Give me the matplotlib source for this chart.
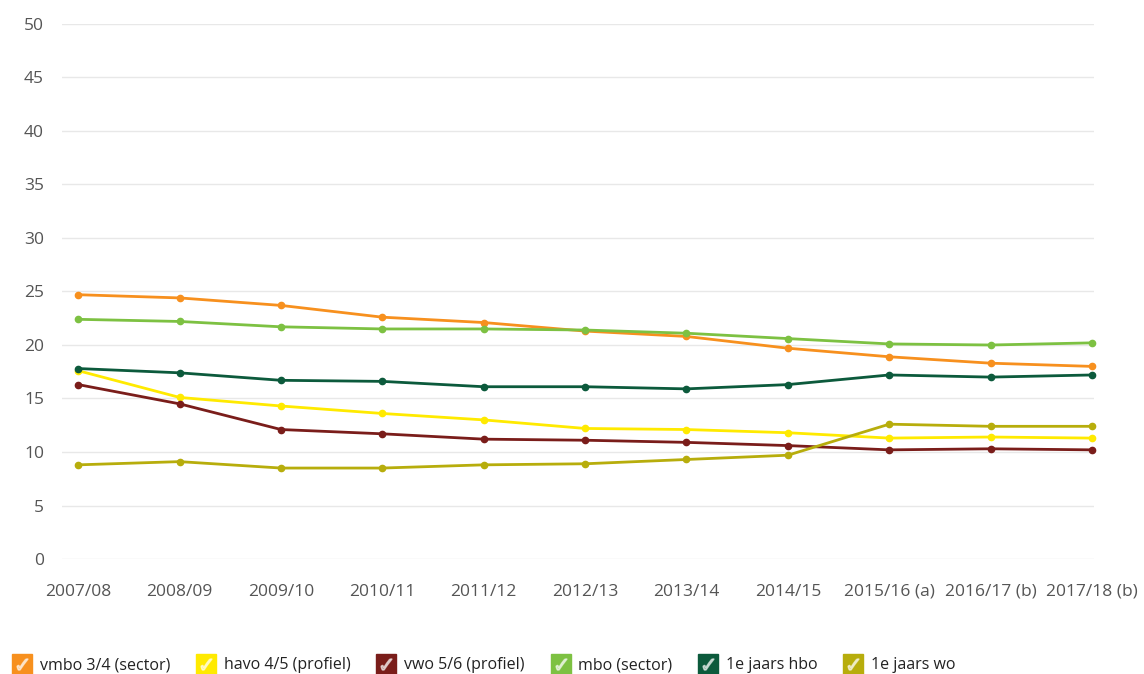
import matplotlib
matplotlib.use("Agg")
import matplotlib.pyplot as plt
from matplotlib.lines import Line2D
from matplotlib.legend_handler import HandlerTuple

jaren = ["2007/08", "2008/09", "2009/10", "2010/11", "2011/12", "2012/13",
         "2013/14", "2014/15", "2015/16 (a)", "2016/17 (b)", "2017/18 (b)"]

vmbo = [24.7, 24.4, 23.7, 22.6, 22.1, 21.3, 20.8, 19.7, 18.9, 18.3, 18.0]
havo = [17.6, 15.1, 14.3, 13.6, 13.0, 12.2, 12.1, 11.8, 11.3, 11.4, 11.3]
vwo = [16.3, 14.5, 12.1, 11.7, 11.2, 11.1, 10.9, 10.6, 10.2, 10.3, 10.2]
mbo = [22.4, 22.2, 21.7, 21.5, 21.5, 21.4, 21.1, 20.6, 20.1, 20.0, 20.2]
hbo = [17.8, 17.4, 16.7, 16.6, 16.1, 16.1, 15.9, 16.3, 17.2, 17.0, 17.2]
wo = [8.8, 9.1, 8.5, 8.5, 8.8, 8.9, 9.3, 9.7, 12.6, 12.4, 12.4]

series = [
    ("vmbo 3/4 (sector)", vmbo, "#f7901e"),
    ("havo 4/5 (profiel)", havo, "#ffea00"),
    ("vwo 5/6 (profiel)", vwo, "#7a1d1a"),
    ("mbo (sector)", mbo, "#7dc142"),
    ("1e jaars hbo", hbo, "#0c5a3c"),
    ("1e jaars wo", wo, "#b7ad0c"),
]

plt.rcParams['font.family'] = ['Open Sans', 'DejaVu Sans']

fig = plt.figure(figsize=(11.44, 6.74), dpi=100)
ax = fig.add_axes([62 / 1144, 115 / 674, 1032 / 1144, 535 / 674])

x = list(range(len(jaren)))
handles = []
labels = []
for naam, waarden, kleur in series:
    ax.plot(x, waarden, color=kleur, lw=2, marker='o', ms=4.5, clip_on=False, zorder=3)
    box = Line2D([], [], marker='s', ms=15, color=kleur, ls='')
    vink = Line2D([], [], marker=r'$\checkmark$', ms=8, color='white', ls='', alpha=0.6)
    handles.append((box, vink))
    labels.append(naam)

ax.set_ylim(0, 50)
ax.set_xlim(-0.16, 10.02)
ax.set_yticks(range(0, 51, 5))
ax.set_xticks(x)
ax.set_xticklabels(jaren)
ax.grid(axis='y', color='#e8e8e8', lw=1)
ax.set_axisbelow(True)
for s in ax.spines.values():
    s.set_visible(False)
ax.tick_params(axis='both', length=0, colors='#555555', labelsize=12.5)
ax.tick_params(axis='y', pad=13)
ax.tick_params(axis='x', pad=18)

fig.legend(handles, labels, handler_map={tuple: HandlerTuple(ndivide=1, pad=0)},
           loc='lower left', bbox_to_anchor=(0.0, -0.02), ncol=6, frameon=False,
           fontsize=11.5, handlelength=1.0, handletextpad=0.6, columnspacing=1.75,
           labelcolor='#222222')

fig.savefig("out.png", dpi=100, facecolor='white')
